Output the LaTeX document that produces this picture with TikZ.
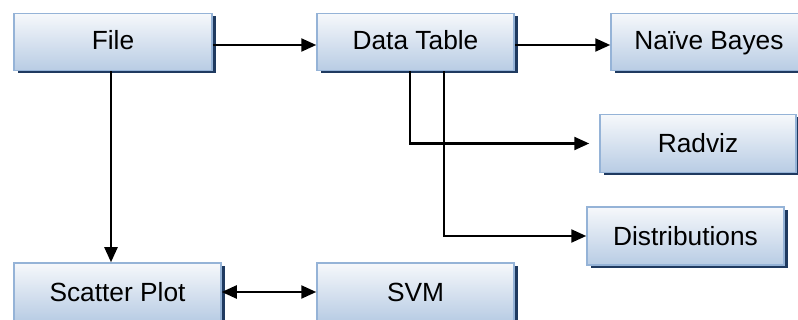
\documentclass[tikz,border=0pt]{standalone}
\usepackage{fontspec}
\setmainfont{Liberation Sans}
\usetikzlibrary{arrows.meta,shadows}
\definecolor{boxtop}{HTML}{F6F8FB}
\definecolor{boxbottom}{HTML}{B8CCE4}
\definecolor{boxline}{HTML}{95B3D7}
\definecolor{boxshade}{HTML}{1F3A60}
\tikzset{
  procbox/.style={rectangle, draw=boxline, line width=1.5pt,
    top color=boxtop, bottom color=boxbottom,
    drop shadow={shadow xshift=3.5pt, shadow yshift=-3pt, fill=boxshade, opacity=1},
    minimum height=58pt, inner sep=0pt, text height=19pt, text depth=0pt,
    font=\fontsize{26.3}{30}\selectfont, text=black},
  toprow/.style={minimum height=57pt, text height=15pt},
  link/.style={line width=2.3pt, draw=black, -{Triangle[length=15pt,width=13pt]}},
  dlink/.style={line width=2.3pt, draw=black, {Triangle[length=15pt,width=13pt]}-{Triangle[length=15pt,width=13pt]}}
}
\begin{document}
\begin{tikzpicture}[x=1pt,y=-1pt]
\useasboundingbox (0,0) rectangle (798,320);
\node[procbox, toprow, minimum width=198pt] (file) at (113,42) {File};
\node[procbox, toprow, minimum width=197pt] (dt) at (415.5,42) {Data Table};
\node[procbox, toprow, minimum width=196pt] (nb) at (709,42) {Naïve Bayes};
\node[procbox, minimum width=196pt] (rad) at (698,143.5) {Radviz};
\node[procbox, minimum width=197pt] (dist) at (685.5,236) {Distributions};
\node[procbox, minimum width=207pt] (sp) at (117.5,292) {Scatter Plot};
\node[procbox, minimum width=197pt] (svm) at (415.5,292) {SVM};

\draw[link] ([yshift=-3pt]file.east) -- ([yshift=-3pt]dt.west);
\draw[link] ([yshift=-3pt]dt.east) -- ([yshift=-3pt]nb.west);
\draw[link] ([xshift=-2pt]file.south) -- ([xshift=-2pt]file.south |- sp.north);
\draw[link, shorten >=10pt] ([xshift=-5.5pt]dt.south) |- (rad.west);
\draw[link] ([xshift=28.5pt]dt.south) |- (dist.west);
\draw[dlink] (sp.east) -- (svm.west);
\end{tikzpicture}
\end{document}
